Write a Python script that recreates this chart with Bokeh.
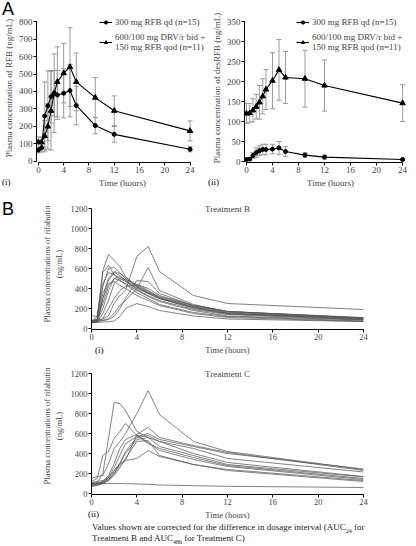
from bokeh.plotting import figure
from bokeh.layouts import column, row
from bokeh.models import (ColumnDataSource, Whisker, TeeHead, Legend, LegendItem,
                          Label, FixedTicker, Div, Range1d)
from bokeh.embed import file_html
from bokeh.resources import INLINE

# ---------------- data ----------------
times = [0, 0.5, 1, 1.5, 2, 2.5, 3, 4, 5, 6, 9, 12, 24]
x_ticks = [0, 4, 8, 12, 16, 20, 24]

# Panel A(i): rifabutin (RFB)
rfb_qd_mean = [65, 79, 260, 318, 370, 390, 380, 390, 405, 320, 205, 155, 70]
rfb_qd_sd = [15, 25, 195, 200, 150, 130, 140, 140, 150, 110, 47, 45, 15]
rfb_drv_mean = [110, 110, 145, 200, 290, 390, 455, 505, 540, 455, 365, 290, 175]
rfb_drv_sd = [30, 30, 90, 130, 225, 225, 200, 170, 225, 165, 115, 85, 57]

# Panel A(ii): 25-O-desacetyl-rifabutin (desRFB)
des_qd_mean = [5, 6, 15, 22, 27, 30, 30, 31, 34, 25, 16, 11, 5]
des_qd_sd = [2, 3, 7, 12, 12, 13, 13, 12, 16, 12, 6, 5, 2]
des_drv_mean = [120, 121, 128, 137, 148, 163, 180, 202, 229, 210, 207, 190, 146]
des_drv_sd = [25, 24, 29, 31, 42, 44, 50, 70, 76, 65, 71, 64, 46]

label_qd = "300 mg RFB qd (n=15)"
label_drv = "600/100 mg DRV/r bid +\n150 mg RFB qod (n=11)"

# Panel B(i): Treatment B individual profiles
treatment_b = [
    [70, 120, 580, 740, 680, 620, 520, 420, 350, 300, 210, 150, 95],
    [60, 75, 560, 630, 540, 500, 470, 400, 350, 300, 200, 145, 90],
    [80, 90, 420, 600, 610, 560, 500, 420, 360, 310, 220, 160, 105],
    [65, 70, 300, 500, 570, 550, 510, 430, 370, 320, 230, 170, 110],
    [75, 80, 200, 380, 500, 520, 480, 410, 360, 300, 210, 150, 100],
    [60, 65, 150, 280, 450, 500, 490, 440, 380, 310, 215, 155, 95],
    [70, 75, 100, 200, 300, 380, 420, 440, 400, 330, 230, 170, 105],
    [80, 85, 95, 130, 250, 330, 380, 720, 820, 570, 330, 250, 190],
    [65, 70, 80, 100, 150, 230, 280, 400, 610, 380, 240, 170, 100],
    [70, 72, 80, 90, 120, 200, 300, 480, 470, 350, 230, 170, 105],
    [60, 62, 65, 68, 75, 120, 200, 250, 220, 180, 125, 95, 70],
    [130, 120, 450, 560, 540, 480, 450, 380, 320, 270, 180, 125, 85],
    [60, 62, 300, 450, 470, 430, 400, 330, 280, 230, 150, 110, 70],
    [70, 80, 350, 480, 560, 530, 480, 390, 330, 280, 190, 140, 85],
    [75, 90, 250, 420, 500, 480, 440, 360, 300, 240, 160, 120, 75],
]

# Panel B(ii): Treatment C individual profiles
treatment_c = [
    [100, 110, 200, 550, 910, 900, 830, 620, 560, 520, 400, 310, 170],
    [150, 170, 180, 300, 450, 520, 600, 800, 1030, 790, 520, 420, 240],
    [120, 150, 380, 420, 550, 620, 700, 580, 500, 450, 360, 280, 150],
    [90, 100, 120, 180, 300, 450, 540, 590, 660, 560, 480, 410, 230],
    [80, 90, 110, 160, 260, 380, 500, 570, 600, 540, 470, 400, 245],
    [100, 105, 120, 150, 220, 300, 420, 560, 580, 520, 450, 350, 215],
    [70, 80, 100, 130, 200, 300, 400, 540, 560, 470, 380, 290, 165],
    [110, 120, 130, 160, 230, 300, 330, 350, 430, 370, 290, 240, 130],
    [90, 95, 110, 140, 200, 280, 330, 590, 510, 430, 340, 270, 140],
    [80, 85, 100, 130, 180, 260, 350, 520, 530, 380, 290, 230, 120],
    [100, 100, 100, 100, 100, 100, 98, 95, 92, 85, 78, 72, 60],
]

SERIF = "Liberation Serif"
SANS = "Liberation Sans"
ERR = "#9a9a9a"


def style(p, yticks, ybounds, fs="9px"):
    p.grid.visible = False
    p.outline_line_color = None
    for ax in p.axis:
        ax.major_label_text_font = SERIF
        ax.major_label_text_font_size = fs
        ax.axis_label_text_font = SERIF
        ax.axis_label_text_font_size = fs
        ax.axis_label_text_font_style = "normal"
        ax.minor_tick_line_color = None
        ax.major_tick_in = 0
        ax.major_tick_out = 3
        ax.major_label_standoff = 1
        ax.axis_label_standoff = 2
        ax.axis_line_color = "black"
        ax.major_tick_line_color = "black"
    p.xaxis.ticker = FixedTicker(ticks=x_ticks)
    p.xaxis.bounds = (0, 24)
    p.yaxis.ticker = FixedTicker(ticks=yticks)
    p.yaxis.bounds = ybounds


def mean_panel(ymax, ystep, yrange, xend, ylabel, qd_m, qd_sd, drv_m, drv_sd,
               bl, legend_xy):
    p = figure(width=208, height=198, output_backend="svg", toolbar_location=None,
               x_range=Range1d(-0.3, xend), y_range=Range1d(*yrange),
               min_border_left=bl, min_border_right=0, min_border_top=13,
               min_border_bottom=36)
    style(p, list(range(0, ymax + 1, ystep)), (0, ymax))
    p.xaxis.axis_label = "Time (hours)"
    p.yaxis.axis_label = ylabel
    for m, sd in ((qd_m, qd_sd), (drv_m, drv_sd)):
        src = ColumnDataSource(dict(t=times, lo=[a - b for a, b in zip(m, sd)],
                                    hi=[a + b for a, b in zip(m, sd)]))
        p.add_layout(Whisker(source=src, base="t", lower="lo", upper="hi",
                             line_color=ERR, line_width=1,
                             upper_head=TeeHead(size=5, line_color=ERR, line_width=1),
                             lower_head=TeeHead(size=5, line_color=ERR, line_width=1)))
    l1 = p.line(times, qd_m, line_color="black", line_width=1.1)
    s1 = p.scatter(times, qd_m, marker="circle", size=4, color="black")
    l2 = p.line(times, drv_m, line_color="black", line_width=1.1)
    s2 = p.scatter(times, drv_m, marker="triangle", size=5.5, color="black")
    leg = Legend(items=[LegendItem(label=label_qd, renderers=[l1, s1]),
                        LegendItem(label=label_drv, renderers=[l2, s2])],
                 location=legend_xy, label_text_font=SERIF, label_text_font_size="9px",
                 glyph_width=13, glyph_height=8, label_standoff=3, spacing=5,
                 padding=0, margin=0, background_fill_alpha=0, border_line_color=None,
                 label_height=9)
    p.add_layout(leg)
    return p


pA1 = mean_panel(800, 100, (-6, 846), 26.92, "Plasma concentration of RFB (ng/mL)",
                 rfb_qd_mean, rfb_qd_sd, rfb_drv_mean, rfb_drv_sd, 31, (63, 110))
pA2 = mean_panel(350, 50, (-2.5, 370), 26.14, "Plasma concentration of desRFB (ng/mL)",
                 des_qd_mean, des_qd_sd, des_drv_mean, des_drv_sd, 35, (52, 110))


def indiv_panel(height, yend, data, title):
    p = figure(width=416, height=height, output_backend="svg", toolbar_location=None,
               x_range=Range1d(0, 24), y_range=Range1d(-10, yend),
               min_border_left=91, min_border_right=53, min_border_top=0,
               min_border_bottom=28)
    style(p, list(range(0, 1201, 200)), (0, 1200), fs="8.5px")
    p.yaxis.axis_label_standoff = 4
    p.xaxis.axis_label = "Time (hours)"
    p.yaxis.axis_label = "Plasma concentrations of rifabutin\n(ng/mL)"
    p.multi_line(xs=[times] * len(data), ys=data, line_color="#5a5a5a", line_width=0.75)
    p.add_layout(Label(x=12, y=1200, text=title, text_align="center",
                       text_baseline="middle", text_font=SERIF, text_font_size="9px"))
    return p


pB1 = indiv_panel(159, 1300, treatment_b, "Treatment B")
pB2 = indiv_panel(165, 1360, treatment_c, "Treatment C")


def tag(text, left, top, size="9px", font=SERIF):
    return Div(text=text, width=30, height=22, margin=(0, 0, 0, 0),
               styles={"position": "absolute", "left": f"{left}px", "top": f"{top}px",
                       "font-family": font, "font-size": size, "line-height": "1.2",
                       "color": "black"})


tags = [tag("A", 2, -1, "18px", SANS), tag("B", 2, 199, "18px", SANS),
        tag("(i)", 2, 177), tag("(ii)", 208, 177),
        tag("(i)", 95, 345), tag("(ii)", 88, 509)]

note = Div(text=("<div style=\"font-family:'Liberation Serif';font-size:9px;"
                 "line-height:11px;padding-left:92px;color:#222\">"
                 "Values shown are corrected for the difference in dosage interval "
                 "(AUC<sub style='font-size:6px;line-height:0'>24</sub> for<br>"
                 "Treatment B and AUC<sub style='font-size:6px;line-height:0'>48h</sub>"
                 " for Treatment C)</div>"),
           width=416, height=24, margin=(0, 0, 0, 0))

layout = column(row(pA1, pA2), pB1, pB2, note, *tags)
open("out.html", "w").write(file_html(layout, INLINE))
